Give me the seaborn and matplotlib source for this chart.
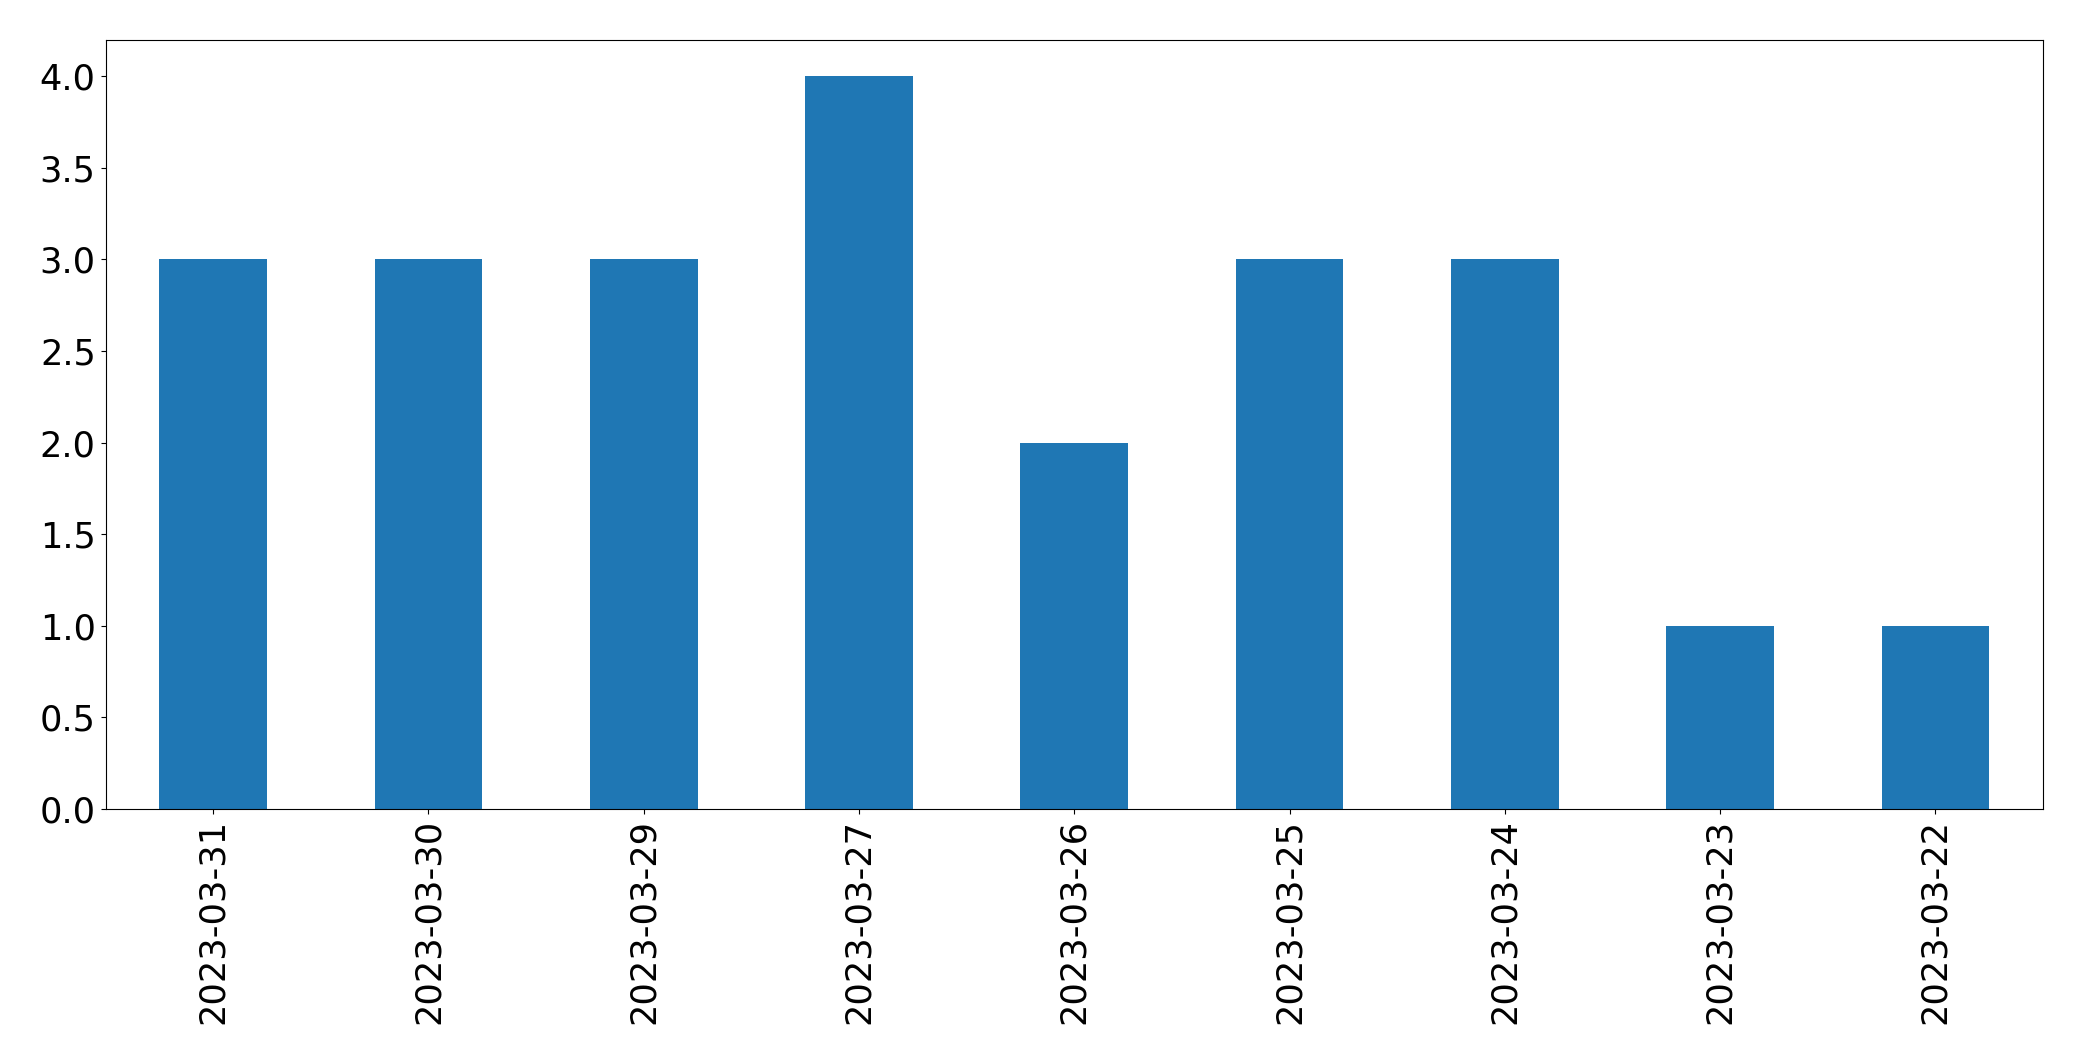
import matplotlib
matplotlib.use("Agg")
import matplotlib.pyplot as plt
import seaborn as sns
import pandas as pd

dates = ["2023-03-31", "2023-03-30", "2023-03-29", "2023-03-27", "2023-03-26",
         "2023-03-25", "2023-03-24", "2023-03-23", "2023-03-22"]
counts = [3, 3, 3, 4, 2, 3, 3, 1, 1]

df = pd.DataFrame({"date": dates, "count": counts})

fig, ax = plt.subplots(figsize=(20.82, 10.61), dpi=100)
fig.subplots_adjust(left=105.5/2082, right=2043/2082, top=1-39.5/1061, bottom=1-809/1061)

sns.barplot(data=df, x="date", y="count", order=dates, color="#1f77b4",
            saturation=1, width=0.5, ax=ax)

ax.set_xlim(-0.5, len(dates) - 0.5)
ax.set_ylim(0, 4.2)
ax.set_yticks([0, 0.5, 1, 1.5, 2, 2.5, 3, 3.5, 4])
ax.set_yticklabels(["0.0", "0.5", "1.0", "1.5", "2.0", "2.5", "3.0", "3.5", "4.0"])
ax.set_xlabel("")
ax.set_ylabel("")
ax.tick_params(axis="both", labelsize=25.3, colors="black")
for s in ax.spines.values():
    s.set_color("black")
plt.setp(ax.get_xticklabels(), rotation=90)

fig.savefig("out.png", dpi=100)
